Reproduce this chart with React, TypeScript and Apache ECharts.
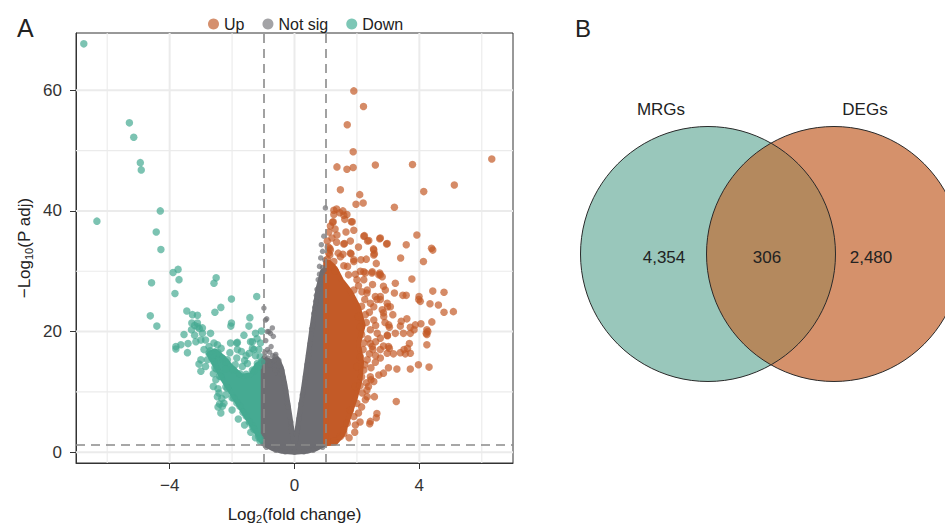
import React, { useEffect, useRef } from "react";
import * as echarts from "echarts";

// ---- axis ticks / guides ----
const xTicks = [-4, 0, 4];
const yTicks = [0, 20, 40, 60];
const xMinorGrid = [-6, -2, 2, 6];
const yMinorGrid = [10, 30, 50];
const xRange = [-7, 7];
const yRange = [-1.8, 69.5];
const foldChangeCut = [-1, 1];
const padjCut = 1.3;

// ---- volcano points (log2FC, -log10 Padj) ----
const downPoints: number[][] = [
  [-6.75, 67.7], [-5.29, 54.6], [-5.15, 52.2], [-4.94, 48.0], [-4.91, 46.8], [-4.3, 40.0], [-6.33, 38.3],
  [-4.43, 36.5], [-4.28, 33.6], [-3.89, 29.8], [-3.73, 30.3], [-3.7, 28.6], [-4.58, 28.1], [-2.51, 28.9],
  [-2.58, 28.0], [-3.83, 26.3], [-2.02, 25.4], [-1.21, 25.8], [-2.36, 24.0], [-2.55, 23.2], [-3.45, 23.4],
  [-3.11, 22.7], [-4.62, 22.6], [-4.41, 20.9], [-1.43, 22.3], [-3.29, 21.4], [-3.1, 20.8], [-3.2, 21.0],
  [-3.05, 20.5], [-2.04, 20.9], [-2.02, 21.4], [-1.46, 20.9], [-1.06, 20.1], [-3.54, 19.5], [-2.95, 19.7],
  [-3.16, 18.3], [-1.83, 18.2], [-1.35, 18.3], [-3.8, 17.1], [-3.64, 17.8], [-3.41, 18.0], [-2.74, 17.5],
  [-2.47, 17.8], [-2.07, 16.5], [-1.7, 16.7], [-1.3, 17.0], [-3.0, 15.3], [-3.06, 14.6], [-2.6, 10.9],
  [-2.36, 6.5], [-2.4, 8.0], [-2.45, 7.5], [-2.42, 9.8], [-2.33, 8.9],
  [-3.0, 13.4], [-2.85, 14.2], [-2.58, 15.0], [-2.79, 15.3], [-2.47, 9.2], [-2.31, 7.6], [-2.26, 8.1],
  [-1.67, 14.2], [-1.51, 14.7], [-1.35, 13.6], [-1.19, 14.7], [-2.05, 18.1], [-1.83, 17.0], [-1.41, 18.3],
  [-1.35, 17.2], [-1.62, 19.4], [-1.25, 19.7], [-1.09, 18.1], [-1.14, 17.0], [-3.27, 22.8], [-3.11, 21.4],
  [-2.95, 20.6], [-2.69, 19.7], [-2.85, 18.6], [-2.58, 18.1], [-2.9, 17.0], [-2.74, 16.4],
  [-1.85, 18.1], [-3.43, 16.5], [-3.8, 17.5], [-3.0, 18.6], [-3.2, 19.4], [-3.3, 20.3], [-2.3, 15.5],
  [-2.15, 15.3], [-1.9, 14.5], [-2.5, 16.2], [-2.2, 13.8], [-1.55, 16.0], [-1.25, 16.0], [-1.1, 15.8],
  [-2.52, 12.0], [-2.6, 13.0], [-2.45, 10.5], [-2.2, 9.5], [-2.0, 7.0], [-1.8, 5.5], [-1.6, 4.5],
  [-1.4, 3.3], [-1.25, 2.4], [-1.1, 1.8], [-2.65, 15.6], [-2.5, 13.8], [-2.35, 12.5], [-2.15, 10.6],
  [-1.95, 9.0], [-1.75, 7.6], [-1.55, 6.0], [-1.35, 4.3], [-1.15, 2.6],
  [-2.7, 16.8], [-2.45, 16.5], [-2.2, 15.0], [-1.95, 13.6], [-1.75, 13.0], [-1.55, 12.9], [-1.3, 13.5],
  [-1.15, 14.2], [-1.05, 15.0], [-2.62, 16.2], [-2.55, 14.0], [-2.4, 12.6], [-2.2, 10.8], [-2.0, 9.0],
  [-1.85, 8.2], [-1.65, 6.6], [-1.45, 5.0], [-1.3, 3.8], [-1.1, 2.2], [-1.6, 15.2], [-1.85, 15.6],
  [-2.35, 17.2], [-1.2, 18.8], [-1.45, 16.4],
];

const notSigPoints: number[][] = [
  [0.99, 40.5], [0.94, 35.8], [0.86, 34.4], [0.9, 33.3], [0.97, 31.9], [0.8, 30.8], [0.89, 29.7],
  [0.76, 28.6], [0.84, 32.2], [0.7, 26.0], [0.62, 23.0], [0.5, 18.0], [0.35, 12.5], [0.2, 8.0], [0.1, 4.0],
  [0.55, 20.5], [0.68, 25.0],
  [-0.98, 23.9], [-0.89, 22.1], [-0.93, 21.9], [-0.71, 20.6], [-0.82, 20.0], [-0.68, 19.2], [-0.87, 17.0],
  [-0.66, 15.3], [-0.5, 14.8], [-0.78, 14.5], [-0.77, 19.7], [-0.87, 20.0], [-0.55, 13.1], [-0.62, 13.6],
  [-0.45, 13.0], [-0.1, 4.0], [-0.22, 8.0], [-0.33, 11.5], [-0.6, 16.2], [-0.95, 16.5],
  [-0.9, 0.8], [-0.6, 0.3], [-0.3, 0.05], [0, 0], [0.3, 0.05], [0.6, 0.3], [0.9, 0.8],
  [-0.95, 15.8], [-0.85, 15.6], [-0.7, 16.0], [-0.62, 15.9], [-0.5, 15.2], [-0.4, 13.5], [-0.36, 12.4],
  [-0.28, 10.2], [-0.2, 7.5], [-0.12, 5.0], [-0.06, 3.0], [0.06, 3.0], [0.14, 5.5], [0.25, 9.5],
  [0.4, 14.5], [0.45, 16.0], [0.58, 21.0], [0.65, 24.0], [0.72, 27.0], [0.8, 29.5], [0.9, 30.6],
  [0.95, 30.2], [-0.75, 17.5], [-0.92, 18.5], [-0.8, 16.6],
];

const upPoints: number[][] = [
  [1.9, 59.9], [2.21, 57.3], [1.69, 54.3], [1.88, 49.8], [1.36, 47.3], [1.68, 46.9], [1.88, 47.2],
  [2.59, 47.6], [3.78, 47.7], [6.32, 48.6], [5.12, 44.3], [4.14, 43.2], [1.47, 43.5], [2.09, 42.7],
  [1.97, 41.1], [2.2, 41.3], [3.2, 40.6], [1.35, 40.3], [1.55, 40.0], [1.45, 39.7], [1.26, 39.4],
  [1.68, 39.4], [1.22, 38.1], [1.61, 38.6], [1.82, 38.2], [1.36, 36.0], [2.24, 35.9], [2.34, 35.0],
  [2.73, 35.4], [2.95, 34.5], [3.92, 36.0], [3.58, 34.4], [4.39, 33.8], [1.58, 34.5], [1.79, 35.0],
  [1.13, 33.8], [1.1, 33.0], [1.4, 33.0], [1.81, 32.9], [2.53, 33.7], [2.56, 32.9], [3.4, 32.2],
  [4.13, 31.6], [1.9, 31.9], [2.13, 31.9], [2.62, 31.3], [2.73, 29.7], [3.76, 28.7], [1.26, 31.6],
  [1.2, 30.8], [1.31, 30.0], [2.11, 30.0], [1.73, 29.4], [2.27, 29.7], [4.43, 33.5], [1.58, 30.9],
  [2.48, 29.7], [2.75, 29.4], [3.23, 28.0], [3.58, 26.0], [3.47, 26.0], [3.99, 25.8], [4.03, 25.0],
  [4.43, 26.7], [4.79, 26.5], [4.61, 24.4], [4.79, 23.2], [5.09, 23.3], [3.2, 26.4], [2.91, 26.9],
  [2.75, 25.8], [2.98, 24.1], [2.85, 23.1], [2.64, 25.3], [2.43, 24.7], [2.32, 26.4], [2.16, 26.6],
  [3.6, 22.1], [3.42, 21.7], [3.39, 20.9], [3.71, 20.7], [3.87, 21.1], [4.05, 21.3], [3.83, 20.3],
  [4.24, 20.3], [4.22, 19.7], [4.4, 21.6], [4.27, 20.0], [3.49, 19.7], [3.71, 19.7], [3.04, 20.7],
  [2.98, 19.3], [2.75, 18.9], [3.68, 18.0], [3.51, 17.0], [3.71, 16.4], [3.55, 16.3], [4.24, 17.8],
  [3.04, 17.2], [3.97, 14.5], [4.31, 14.1], [3.71, 13.8], [3.28, 13.8], [3.01, 14.0], [2.85, 13.1],
  [3.26, 8.4], [2.64, 6.4], [2.62, 5.7], [2.43, 5.1], [2.41, 4.7], [1.93, 3.3], [2.56, 9.2], [2.37, 10.9],
  [2.45, 12.0], [2.32, 10.3], [2.59, 14.9], [2.75, 15.6], [2.51, 17.0], [2.43, 18.0], [3.17, 16.3],
  [3.39, 16.5], [3.62, 17.2], [3.01, 17.5], [2.85, 17.6], [4.34, 24.6], [4.24, 19.5], [3.98, 25.3],
  [1.26, 40.1], [1.58, 39.3], [1.24, 38.2], [1.85, 38.2], [2.22, 35.8], [2.38, 35.1], [2.75, 35.5],
  [2.97, 34.6], [1.6, 34.6], [1.15, 33.5], [1.13, 32.7], [1.47, 32.4], [1.79, 33.0], [1.9, 31.6],
  [2.54, 33.5], [2.54, 32.7], [2.22, 29.9], [2.49, 29.9], [2.7, 29.4], [2.81, 29.1], [2.0, 28.6],
  [2.22, 28.6], [1.9, 26.9], [2.33, 26.9], [2.59, 25.8], [2.75, 25.3], [2.97, 24.7], [2.54, 24.1],
  [2.81, 23.6], [3.07, 24.1], [2.27, 22.8], [2.54, 21.9], [2.86, 22.5], [3.02, 21.1], [2.11, 20.8],
  [2.43, 20.3], [2.65, 19.7], [2.97, 19.4], [3.23, 19.7], [2.22, 18.1], [2.49, 17.5], [2.75, 17.0],
  [2.97, 16.4], [2.11, 15.8], [2.33, 15.3], [2.0, 14.2], [2.22, 13.6], [2.43, 12.5], [2.54, 11.7],
  [1.95, 10.9], [2.17, 9.8], [2.33, 9.2], [2.0, 8.1], [2.27, 8.7], [1.79, 7.0], [1.9, 5.9], [1.69, 4.8],
  [1.58, 3.7], [1.47, 2.6], [1.26, 1.8], [1.58, 3.1], [1.05, 35.0], [1.1, 36.5], [1.15, 37.5],
  [1.08, 34.0], [1.2, 35.5], [1.3, 37.0], [1.05, 32.0],
  [2.05, 22.5], [2.3, 21.5], [2.15, 19.5], [2.35, 18.8], [2.6, 18.3], [2.2, 17.0], [2.4, 16.3],
  [2.6, 16.0], [2.15, 12.5], [2.3, 11.5], [2.1, 11.0], [2.25, 14.5], [2.45, 14.0], [2.7, 12.8],
  [2.05, 6.5], [2.15, 7.5], [1.95, 4.5], [1.75, 2.4], [2.1, 5.0], [2.6, 21.0], [2.9, 21.5], [3.15, 22.8],
  [2.4, 23.2], [2.15, 24.2], [2.5, 27.8], [2.85, 27.5], [1.95, 29.5], [1.7, 30.8], [1.55, 32.8],
  [1.35, 34.8], [1.65, 36.5], [1.9, 36.8], [2.05, 34.0], [2.3, 32.0], [2.05, 27.6], [2.25, 25.3],
];

// ---- outlines of the dense (overplotted) cores of each group ----
const downCore: number[][] = [
  [-1.0, 1.4], [-1.19, 3.0], [-1.73, 7.4], [-2.26, 11.8], [-2.55, 14.5], [-2.75, 16.3], [-2.55, 16.8],
  [-2.3, 15.8], [-2.0, 14.0], [-1.7, 12.6], [-1.4, 12.8], [-1.2, 14.5], [-1.0, 15.2],
];
const notSigCore: number[][] = [
  [-1.0, 1.4], [-0.7, 0.6], [-0.4, 0.15], [0, 0], [0.4, 0.15], [0.7, 0.6], [1.0, 1.4], [1.0, 28.5],
  [0.9, 30], [0.75, 27], [0.6, 22], [0.45, 16.5], [0.3, 11], [0.15, 6], [0.03, 1.8], [-0.03, 1.8],
  [-0.15, 6], [-0.3, 11], [-0.42, 14], [-0.55, 15.5], [-0.75, 15], [-1.0, 15.5],
];
const upCore: number[][] = [
  [1.0, 1.4], [1.3, 1.5], [1.55, 3], [1.75, 6], [1.95, 9], [2.1, 12], [2.15, 15], [2.05, 18], [2.2, 21],
  [2.05, 24], [1.8, 26.5], [1.5, 28.5], [1.3, 30.5], [1.1, 31.5], [1.0, 31.5],
];

// ---- Venn ----
const vennSets = ["MRGs", "DEGs"];
const vennCounts = [4354, 306, 2480];

const FONT = "Liberation Sans";
const UP = "#C35A27";
const NS = "#6D6D72";
const DOWN = "#45AA92";

const lensPath =
  "M771,143.2 A127.5,127.5 0 0 1 771,364.8 A127.5,127.5 0 0 1 771,143.2 Z";
echarts.graphic.registerShape("vennLens", echarts.graphic.extendPath(lensPath, {}));

const coreSeries = (name: string, pts: number[][], color: string) => ({
  type: "custom",
  name,
  silent: true,
  data: [[0, 0]],
  renderItem: (params: any, api: any) => ({
    type: "polygon",
    shape: { points: pts.map((p) => api.coord(p)) },
    style: { fill: color, stroke: color, lineWidth: 5, lineJoin: "round" },
  }),
});

const pointSeries = (name: string, pts: number[][], color: string, size: number) => ({
  type: "scatter",
  name,
  data: pts,
  symbolSize: size,
  itemStyle: { color, opacity: 0.7 },
  silent: true,
});

const gridSeries = {
  type: "custom",
  name: "gridLines",
  silent: true,
  z: 1,
  data: [[0, 0]],
  renderItem: (params: any, api: any) => {
    const seg = (a: number[], b: number[], w: number) => {
      const p1 = api.coord(a);
      const p2 = api.coord(b);
      return { type: "line", shape: { x1: p1[0], y1: p1[1], x2: p2[0], y2: p2[1] }, style: { stroke: "#EBEBEB", lineWidth: w } };
    };
    const children: any[] = [];
    xMinorGrid.forEach((v) => children.push(seg([v, yRange[0]], [v, yRange[1]], 1.1)));
    yMinorGrid.forEach((v) => children.push(seg([xRange[0], v], [xRange[1], v], 1.1)));
    xTicks.forEach((v) => children.push(seg([v, yRange[0]], [v, yRange[1]], 2)));
    yTicks.forEach((v) => children.push(seg([xRange[0], v], [xRange[1], v], 2)));
    return { type: "group", children };
  },
};

const fmtNum = (v: number) => (v < 0 ? "\u2212" + Math.abs(v) : String(v));

export default function App() {
  const ref = useRef<HTMLDivElement>(null);
  useEffect(() => {
    const chart = echarts.init(ref.current!, null, { renderer: "svg" });
    const vennText = (text: string, x: number, y: number) => ({
      type: "text", x, y,
      style: { text, fontSize: 17, fill: "#222", fontFamily: FONT, align: "center", verticalAlign: "middle" },
    });
    const option: any = {
      animation: false,
      textStyle: { fontFamily: FONT },
      grid: {
        left: 76, top: 33, width: 437, height: 430, show: true,
        borderColor: "#333", borderWidth: 1, backgroundColor: "transparent",
        outerBoundsMode: "none",
      },
      legend: {
        left: 203, top: 11, icon: "circle", itemWidth: 11, itemHeight: 11, itemGap: 18,
        textStyle: { fontSize: 16, color: "#222", fontFamily: FONT },
        selectedMode: false,
        data: [
          { name: "Up", itemStyle: { color: "#D5906E", opacity: 1 } },
          { name: "Not sig", itemStyle: { color: "#A3A3A6", opacity: 1 } },
          { name: "Down", itemStyle: { color: "#7DC7B6", opacity: 1 } },
        ],
      },
      xAxis: {
        type: "value", min: xRange[0], max: xRange[1],
        axisLine: { show: true, onZero: false, lineStyle: { color: "#333", width: 1 } },
        axisTick: { show: true, customValues: xTicks, length: 6, lineStyle: { color: "#333" } },
        axisLabel: { customValues: xTicks, fontSize: 17, color: "#333", margin: 14, formatter: fmtNum },
        splitLine: { show: false },
        name: "Log{s|2}(fold change)", nameLocation: "middle", nameGap: 41,
        nameTextStyle: { fontSize: 17, color: "#222", rich: { s: { fontSize: 11, padding: [9, 0, 0, 0] } } },
      },
      yAxis: {
        type: "value", min: yRange[0], max: yRange[1],
        axisLine: { show: true, onZero: false, lineStyle: { color: "#333", width: 1 } },
        axisTick: { show: true, customValues: yTicks, length: 6, lineStyle: { color: "#333" } },
        axisLabel: { customValues: yTicks, fontSize: 17, color: "#333", margin: 14, formatter: fmtNum },
        splitLine: { show: false },
        name: "\u2212Log{s|10}(P adj)", nameLocation: "middle", nameGap: 42,
        nameTextStyle: { fontSize: 17, color: "#222", rich: { s: { fontSize: 11, padding: [9, 0, 0, 0] } } },
      },
      series: [
        gridSeries,
        coreSeries("downCore", downCore, DOWN),
        pointSeries("Down", downPoints, DOWN, 7.5),
        coreSeries("nsCore", notSigCore, NS),
        pointSeries("Not sig", notSigPoints, NS, 5.5),
        coreSeries("upCore", upCore, UP),
        pointSeries("Up", upPoints, UP, 7.5),
        {
          type: "custom", name: "cut", silent: true, z: 5, data: [[0, 0]],
          renderItem: () => ({ type: "group", children: [] }),
          markLine: {
            silent: true, symbol: ["none", "none"], label: { show: false }, emphasis: { disabled: true },
            lineStyle: { color: "#8A8A8A", type: [9, 6], width: 1.6 },
            data: [...foldChangeCut.map((v) => ({ xAxis: v })), { yAxis: padjCut }],
          },
        },
      ],
      graphic: [
        { type: "text", x: 17, y: 28, style: { text: "A", fontSize: 25, fill: "#222", fontFamily: FONT, verticalAlign: "middle" } },
        { type: "text", x: 575, y: 28, style: { text: "B", fontSize: 24, fill: "#222", fontFamily: FONT, verticalAlign: "middle" } },
        { type: "circle", shape: { cx: 708, cy: 254, r: 127.5 }, style: { fill: "#99C7BB" } },
        { type: "circle", shape: { cx: 834, cy: 254, r: 127.5 }, style: { fill: "#D5916B" } },
        { type: "vennLens", style: { fill: "#B4895E" } },
        { type: "circle", shape: { cx: 708, cy: 254, r: 127.5 }, style: { fill: "none", stroke: "#2A2A2A", lineWidth: 1 } },
        { type: "circle", shape: { cx: 834, cy: 254, r: 127.5 }, style: { fill: "none", stroke: "#2A2A2A", lineWidth: 1 } },
        vennText(vennSets[0], 661, 109),
        vennText(vennSets[1], 865, 109),
        vennText(vennCounts[0].toLocaleString("en-US"), 664, 257),
        vennText(vennCounts[1].toLocaleString("en-US"), 767, 257),
        vennText(vennCounts[2].toLocaleString("en-US"), 871, 257),
      ],
    };
    chart.setOption(option);
    return () => chart.dispose();
  }, []);
  return (
    <div
      ref={ref}
      style={{ position: "fixed", left: 0, top: 0, width: 945, height: 527, background: "#fff" }}
    />
  );
}
